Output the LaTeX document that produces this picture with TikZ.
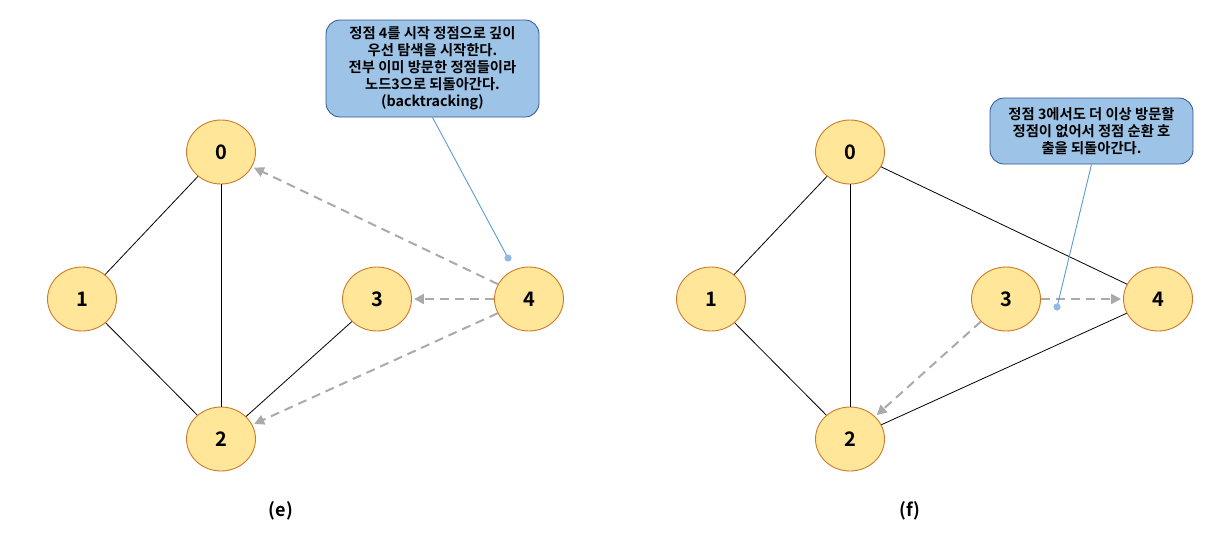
\documentclass[tikz,border=0pt]{standalone}
\usepackage{fontspec}
\setmainfont{Noto Sans CJK KR}[BoldFont={* Bold}]
\usetikzlibrary{arrows.meta,shapes.geometric}
\definecolor{nodefill}{HTML}{FFE699}
\definecolor{nodeline}{HTML}{D0782A}
\definecolor{visit}{HTML}{AAAAAA}
\definecolor{notefill}{HTML}{9DC3E6}
\definecolor{noteline}{HTML}{2F5597}
\definecolor{pointer}{HTML}{5B9BD5}
\tikzset{
  vertex/.style={ellipse, draw=nodeline, fill=nodefill, line width=0.9pt,
    minimum width=69pt, minimum height=64pt, inner sep=0pt,
    font=\fontsize{20}{20}\selectfont\bfseries},
  edge/.style={draw=black, line width=0.8pt},
  back/.style={draw=visit, line width=2pt, dash pattern=on 9pt off 6pt,
    -{Triangle[length=10pt,width=10pt]}, shorten >=2pt},
  note/.style={rounded corners=14pt, draw=noteline, fill=notefill, line width=0.8pt,
    align=center, font=\fontsize{14.3}{17}\selectfont\bfseries, inner sep=0pt},
  pin/.style={draw=pointer, line width=0.9pt},
  pindot/.style={fill=notefill!80!pointer, draw=none},
  caption/.style={font=\fontsize{18}{18}\selectfont\bfseries}
}
\begin{document}
\begin{tikzpicture}[x=1pt,y=-1pt]
\useasboundingbox (0,0) rectangle (1215,539);

% ---- (e) ----
\node[vertex] (e0) at (221,152) {0};
\node[vertex] (e1) at (82,299) {1};
\node[vertex] (e2) at (221,439) {2};
\node[vertex] (e3) at (377,299) {3};
\node[vertex] (e4) at (529,299) {4};
\draw[edge] (e0) -- (e1);
\draw[edge] (e0) -- (e2);
\draw[edge] (e1) -- (e2);
\draw[edge] (e2) -- (e3);
\draw[back] (e4) -- (e0);
\draw[back] (e4) -- (e3);
\draw[back] (e4) -- (e2);
\node[note, minimum width=213pt, minimum height=97pt] (ne) at (432.5,68.5)
  {정점 4를 시작 정점으로 깊이\\우선 탐색을 시작한다.\\전부 이미 방문한 정점들이라\\노드3으로 되돌아간다.\\(backtracking)};
\coordinate (pe) at (508,258);
\draw[pin] (ne.south) -- (pe);
\fill[pindot] (pe) circle (3.6pt);
\node[caption] (ce) at (281,511) {(e)};

% ---- (f) ----
\node[vertex] (f0) at (850,152) {0};
\node[vertex] (f1) at (711,299) {1};
\node[vertex] (f2) at (850,439) {2};
\node[vertex] (f3) at (1006,299) {3};
\node[vertex] (f4) at (1158,299) {4};
\draw[edge] (f0) -- (f1);
\draw[edge] (f0) -- (f2);
\draw[edge] (f1) -- (f2);
\draw[edge] (f0) -- (f4);
\draw[edge] (f2) -- (f4);
\draw[back] (f3) -- (f4);
\draw[back] (f3) -- (f2);
\node[note, minimum width=203pt, minimum height=66pt] (nf) at (1091.5,131)
  {정점 3에서도 더 이상 방문할\\정점이 없어서 정점 순환 호\\출을 되돌아간다.};
\coordinate (pf) at (1057,307);
\draw[pin] (nf.south) -- (pf);
\fill[pindot] (pf) circle (3.6pt);
\node[caption] (cf) at (910,511) {(f)};
\end{tikzpicture}
\end{document}
